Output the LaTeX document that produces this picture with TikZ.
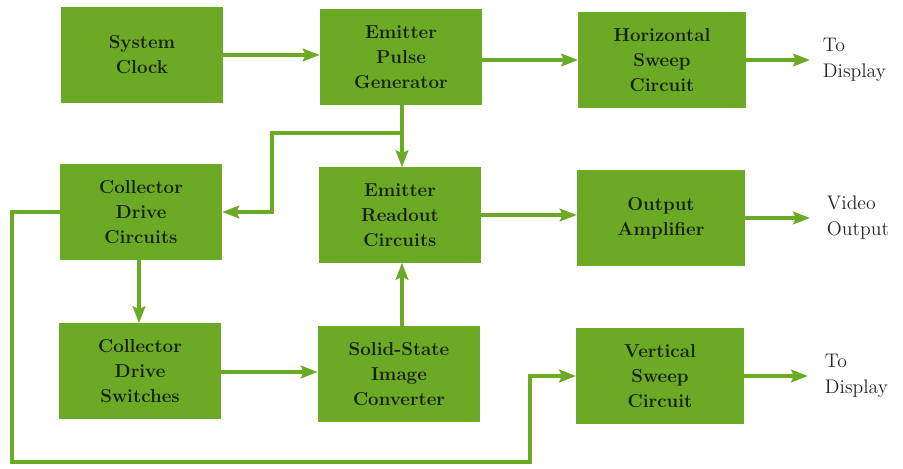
\documentclass[tikz,border=0pt]{standalone}
\usetikzlibrary{positioning, arrows.meta}

\definecolor{boxgreen}{RGB}{108,170,38}
\definecolor{inkgreen}{RGB}{22,32,12}

\begin{document}
\begin{tikzpicture}[x=0.025cm, y=-0.025cm,
        block/.style={fill=boxgreen, text=inkgreen, align=center,
            minimum width=4.05cm, minimum height=2.375cm,
            font=\fontsize{13.3}{17.8}\selectfont\bfseries},
        link/.style={draw=boxgreen, line width=2.3pt,
            -{Stealth[length=12pt, width=9pt, inset=2pt]}},
        note/.style={text=black!85, align=left, anchor=west,
            font=\fontsize{14}{18.5}\selectfont}]
    \useasboundingbox (0,0) rectangle (903,468);

    \node [block] (clock) at (142,55) {System\\Clock};
    \node [block] (pulse) at (401,57) {Emitter\\Pulse\\Generator};
    \node [block, minimum width=4.18cm] (hsweep) at (662,60) {Horizontal\\Sweep\\Circuit};

    \node [block] (cdrive) at (141,212) {Collector\\Drive\\Circuits};
    \node [block] (readout) at (400,215) {Emitter\\Readout\\Circuits};
    \node [block, minimum width=4.2cm] (amp) at (661,218) {Output\\Amplifier};

    \node [block] (switches) at (140,371) {Collector\\Drive\\Switches};
    \node [block] (imager) at (399,374) {Solid-State\\Image\\Converter};
    \node [block, minimum width=4.18cm] (vsweep) at (660,376) {Vertical\\Sweep\\Circuit};

    % free ends and bends
    \coordinate (hout) at (810,60);
    \coordinate (aout) at (810,218);
    \coordinate (vout) at (808,376);
    \coordinate (split) at (402,133);
    \coordinate (loopL) at (12,462);
    \coordinate (loopR) at (530,376);

    \node [note, right=0.2cm of hout] (hname) {To\\Display};
    \node [note, right=0.3cm of aout] (aname) {Video\\Output};
    \node [note, right=0.3cm of vout] (vname) {To\\Display};

    \draw [link] (clock.east) -- (clock.east -| pulse.west);
    \draw [link] (pulse.east |- hsweep.west) -- (hsweep.west);
    \draw [link] (hsweep.east) -- (hout);

    \draw [link] (pulse.south -| split) -- (readout.north -| split);
    \draw [link] (split) -- ++(-130,0) |- (cdrive.east);

    \draw [link] (cdrive.south -| 139,0) -- (switches.north -| 139,0);
    \draw [link] (switches.east |- 0,372) -- (imager.west |- 0,372);
    \draw [link] (imager.north -| split) -- (readout.south -| split);

    \draw [link] (readout.east) -- (amp.west |- readout.east);
    \draw [link] (amp.east) -- (aout);

    \draw [link] (cdrive.west) -| (loopL) -| (loopR) -- (vsweep.west);
    \draw [link] (vsweep.east) -- (vout);
\end{tikzpicture}
\end{document}
